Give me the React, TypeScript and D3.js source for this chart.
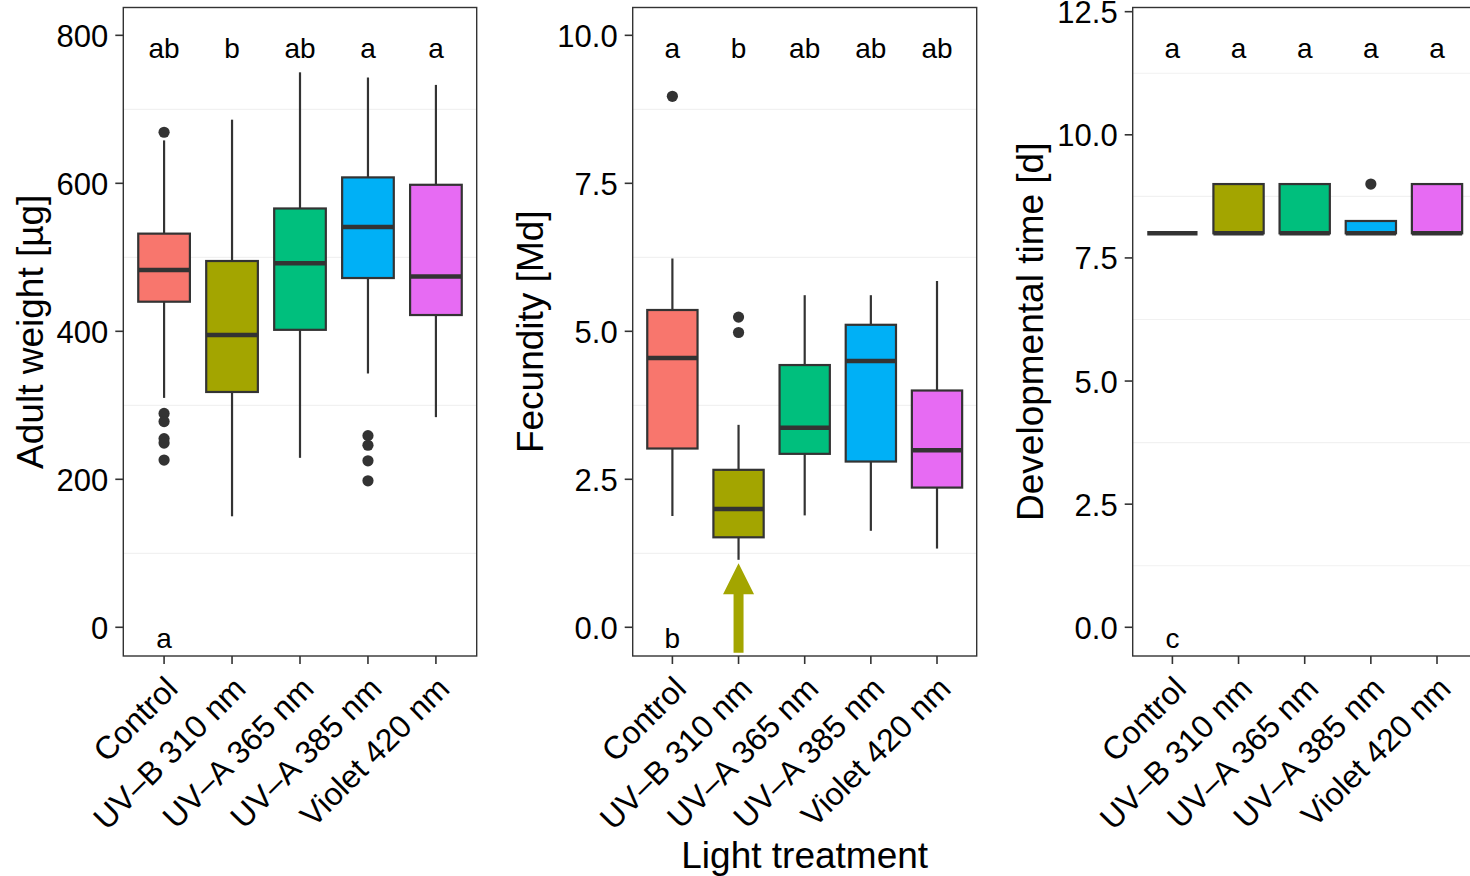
import React from "react";
import * as d3 from "d3";

// ---------- data ----------
const categories = ["Control", "UV–B 310 nm", "UV–A 365 nm", "UV–A 385 nm", "Violet 420 nm"];
const colors = ["#F8766D", "#A3A500", "#00BF7D", "#00B0F6", "#E76BF3"];

const weightMin = [310, 150, 229, 343, 284];
const weightQ1 = [440, 318, 402, 472, 422];
const weightMedian = [483, 395, 492, 541, 474];
const weightQ3 = [532, 495, 566, 608, 598];
const weightMax = [658, 686, 750, 743, 733];
const weightOutliers = [[669, 289, 278, 255, 249, 226], [], [], [259, 246, 225, 198], []];
const weightLetters = ["ab", "b", "ab", "a", "a"];
const weightBottomLetter = "a";
const weightTicks = [0, 200, 400, 600, 800];
const weightMinor = [100, 300, 500, 700];

const fecMin = [1.88, 1.14, 1.89, 1.63, 1.33];
const fecQ1 = [3.02, 1.52, 2.93, 2.8, 2.36];
const fecMedian = [4.55, 2.0, 3.37, 4.5, 2.99];
const fecQ3 = [5.36, 2.66, 4.43, 5.11, 4.0];
const fecMax = [6.23, 3.42, 5.61, 5.61, 5.85];
const fecOutliers = [[8.97], [5.24, 4.98], [], [], []];
const fecLetters = ["a", "b", "ab", "ab", "ab"];
const fecBottomLetter = "b";
const fecTicks = [0, 2.5, 5, 7.5, 10];
const fecMinor = [1.25, 3.75, 6.25, 8.75];
const arrowCategory = "UV–B 310 nm";
const arrowFrom = -0.43;
const arrowTo = 1.08;

const devMin = [8, 8, 8, 8, 8];
const devQ1 = [8, 8, 8, 8, 8];
const devMedian = [8, 8, 8, 8, 8];
const devQ3 = [8, 9, 9, 8.25, 9];
const devMax = [8, 9, 9, 8.25, 9];
const devOutliers = [[], [], [], [9], []];
const devLetters = ["a", "a", "a", "a", "a"];
const devBottomLetter = "c";
const devTicks = [0, 2.5, 5, 7.5, 10, 12.5];
const devMinor = [1.25, 3.75, 6.25, 8.75, 11.25];

// ---------- layout ----------
const FONT = "'Liberation Sans', Arial, Helvetica, sans-serif";
const TOP = 7.5;
const BOTTOM = 656;
const INK = "#333333";

type PanelProps = {
  x0: number;
  x1: number;
  domain: [number, number];
  ticks: number[];
  minor: number[];
  fmt: (v: number) => string;
  min: number[];
  q1: number[];
  med: number[];
  q3: number[];
  max: number[];
  outliers: number[][];
  letters: string[];
  bottomLetter: string;
  title: string;
  titleX: number;
  arrow?: { cat: string; from: number; to: number };
};

function Panel(p: PanelProps) {
  const x = d3.scalePoint<string>().domain(categories).range([p.x0, p.x1]).padding(0.6);
  const y = d3.scaleLinear().domain(p.domain).range([BOTTOM, TOP]);
  const bw = x.step() * 0.76;
  const cy = (TOP + BOTTOM) / 2;
  return (
    <g>
      <rect x={p.x0} y={TOP} width={p.x1 - p.x0} height={BOTTOM - TOP} fill="white" />
      {p.minor.map((v) => (
        <line key={"m" + v} x1={p.x0} x2={p.x1} y1={y(v)} y2={y(v)} stroke="#f1f1f1" strokeWidth={1.2} />
      ))}
      {categories.map((c, i) => {
        const cx = x(c)!;
        return (
          <g key={c}>
            <line x1={cx} x2={cx} y1={y(p.q3[i])} y2={y(p.max[i])} stroke={INK} strokeWidth={2.2} />
            <line x1={cx} x2={cx} y1={y(p.q1[i])} y2={y(p.min[i])} stroke={INK} strokeWidth={2.2} />
            <rect
              x={cx - bw / 2}
              y={y(p.q3[i])}
              width={bw}
              height={Math.max(0, y(p.q1[i]) - y(p.q3[i]))}
              fill={colors[i]}
              stroke={INK}
              strokeWidth={2.2}
            />
            <line
              x1={cx - bw / 2}
              x2={cx + bw / 2}
              y1={y(p.med[i])}
              y2={y(p.med[i])}
              stroke={INK}
              strokeWidth={4.5}
            />
            {p.outliers[i].map((o, k) => (
              <circle key={k} cx={cx} cy={y(o)} r={5.6} fill={INK} />
            ))}
            <text x={cx} y={TOP + 50.5} textAnchor="middle" fontSize={28} fontFamily={FONT} fill="black">
              {p.letters[i]}
            </text>
          </g>
        );
      })}
      <text x={x(categories[0])!} y={BOTTOM - 8} textAnchor="middle" fontSize={28} fontFamily={FONT} fill="black">
        {p.bottomLetter}
      </text>
      {p.arrow && (
        <path
          d={(() => {
            const ax = x(p.arrow!.cat)!;
            const yb = y(p.arrow!.from);
            const yt = y(p.arrow!.to);
            const hb = yt + 31;
            return `M${ax - 5},${yb} L${ax - 5},${hb} L${ax - 15.5},${hb} L${ax},${yt} L${ax + 15.5},${hb} L${ax + 5},${hb} L${ax + 5},${yb} Z`;
          })()}
          fill="#A3A500"
        />
      )}
      <rect x={p.x0} y={TOP} width={p.x1 - p.x0} height={BOTTOM - TOP} fill="none" stroke={INK} strokeWidth={1.4} />
      {p.ticks.map((t) => (
        <g key={"t" + t}>
          <line x1={p.x0 - 8} x2={p.x0} y1={y(t)} y2={y(t)} stroke={INK} strokeWidth={1.6} />
          <text
            x={p.x0 - 15}
            y={y(t)}
            dy="0.37em"
            textAnchor="end"
            fontSize={31}
            fontFamily={FONT}
            fill="black"
          >
            {p.fmt(t)}
          </text>
        </g>
      ))}
      {categories.map((c) => {
        const cx = x(c)!;
        return (
          <g key={"x" + c}>
            <line x1={cx} x2={cx} y1={BOTTOM} y2={BOTTOM + 8} stroke={INK} strokeWidth={1.6} />
            <text
              transform={`translate(${cx - 1},${BOTTOM + 18}) rotate(-45)`}
              dy="0.73em"
              textAnchor="end"
              fontSize={32}
              fontFamily={FONT}
              fill="black"
            >
              {c}
            </text>
          </g>
        );
      })}
      <text
        transform={`translate(${p.titleX},${cy}) rotate(-90)`}
        textAnchor="middle"
        fontSize={37}
        fontFamily={FONT}
        fill="black"
      >
        {p.title}
      </text>
    </g>
  );
}

export default function App() {
  const f0 = d3.format("d");
  const f1 = d3.format(".1f");
  const p1x = [123.3, 476.7];
  const p2x = [632.7, 976.7];
  const p3x = [1132.7, 1476.7];
  return (
    <svg
      width={1470}
      height={876}
      style={{ position: "absolute", left: 0, top: 0, background: "white" }}
    >
      <rect width={1470} height={876} fill="white" />
      <Panel
        x0={p1x[0]}
        x1={p1x[1]}
        domain={[-38.8, 837.6]}
        ticks={weightTicks}
        minor={weightMinor}
        fmt={f0}
        min={weightMin}
        q1={weightQ1}
        med={weightMedian}
        q3={weightQ3}
        max={weightMax}
        outliers={weightOutliers}
        letters={weightLetters}
        bottomLetter={weightBottomLetter}
        title="Adult weight [µg]"
        titleX={43}
      />
      <Panel
        x0={p2x[0]}
        x1={p2x[1]}
        domain={[-0.485, 10.47]}
        ticks={fecTicks}
        minor={fecMinor}
        fmt={f1}
        min={fecMin}
        q1={fecQ1}
        med={fecMedian}
        q3={fecQ3}
        max={fecMax}
        outliers={fecOutliers}
        letters={fecLetters}
        bottomLetter={fecBottomLetter}
        title="Fecundity [Md]"
        titleX={543}
        arrow={{ cat: arrowCategory, from: arrowFrom, to: arrowTo }}
      />
      <Panel
        x0={p3x[0]}
        x1={p3x[1]}
        domain={[-0.583, 12.585]}
        ticks={devTicks}
        minor={devMinor}
        fmt={f1}
        min={devMin}
        q1={devQ1}
        med={devMedian}
        q3={devQ3}
        max={devMax}
        outliers={devOutliers}
        letters={devLetters}
        bottomLetter={devBottomLetter}
        title="Developmental time [d]"
        titleX={1043}
      />
      <text x={(p2x[0] + p2x[1]) / 2} y={868} textAnchor="middle" fontSize={37} fontFamily={FONT} fill="black">
        Light treatment
      </text>
    </svg>
  );
}
